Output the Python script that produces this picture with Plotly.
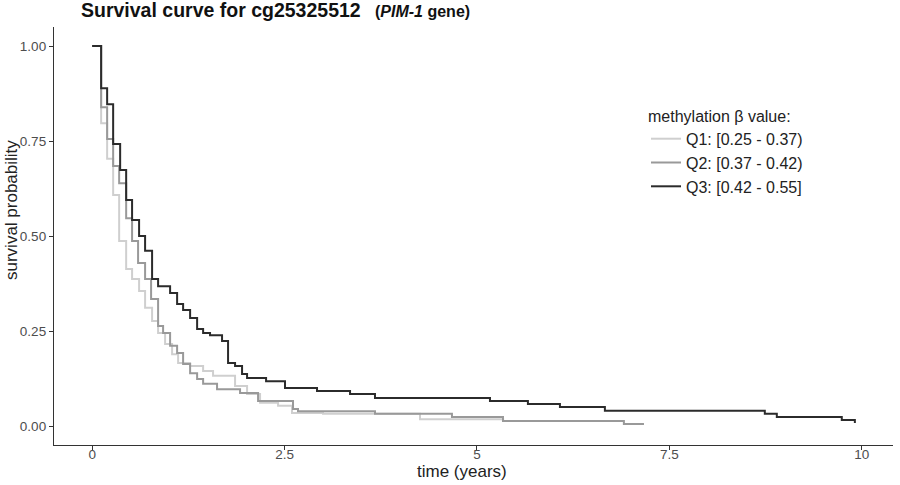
import plotly.graph_objects as go

# Kaplan-Meier step data (time in years, survival probability after each step)
q1_time = [0, 0.117, 0.195, 0.273, 0.351, 0.442, 0.519, 0.61, 0.688, 0.779, 0.857, 0.948,
           1.039, 1.117, 1.273, 1.442, 1.571, 1.857, 2.013, 2.182, 2.416, 2.597, 3.0, 4.26,
           5.34, 5.99]
q1_surv = [1.0, 0.797, 0.703, 0.608, 0.487, 0.413, 0.387, 0.355, 0.311, 0.276, 0.245, 0.216,
           0.189, 0.166, 0.158, 0.145, 0.132, 0.105, 0.084, 0.061, 0.053, 0.034, 0.032, 0.018,
           0.013, 0.013]

q2_time = [0, 0.117, 0.195, 0.273, 0.351, 0.442, 0.519, 0.597, 0.688, 0.766, 0.857, 0.922,
           1.013, 1.104, 1.182, 1.273, 1.364, 1.442, 1.623, 1.922, 2.156, 2.61, 2.675, 3.675,
           4.675, 5.338, 6.909, 7.17]
q2_surv = [1.0, 0.839, 0.755, 0.684, 0.639, 0.547, 0.487, 0.429, 0.387, 0.334, 0.263, 0.245,
           0.211, 0.192, 0.163, 0.139, 0.124, 0.111, 0.097, 0.087, 0.066, 0.045, 0.039, 0.032,
           0.024, 0.013, 0.005, 0.005]

q3_time = [0, 0.117, 0.195, 0.273, 0.364, 0.442, 0.519, 0.61, 0.688, 0.779, 0.857, 1.013,
           1.104, 1.182, 1.273, 1.364, 1.442, 1.532, 1.688, 1.766, 1.857, 1.948, 2.013, 2.26,
           2.506, 2.922, 3.351, 3.675, 5.169, 5.662, 6.078, 6.662, 8.74, 8.896, 9.74, 9.91]
q3_surv = [1.0, 0.889, 0.847, 0.742, 0.674, 0.595, 0.542, 0.50, 0.461, 0.387, 0.368, 0.350,
           0.321, 0.305, 0.284, 0.255, 0.245, 0.239, 0.224, 0.166, 0.158, 0.137, 0.126, 0.118,
           0.100, 0.092, 0.084, 0.074, 0.066, 0.058, 0.050, 0.040, 0.032, 0.024, 0.016, 0.008]

group_names = ["Q1: [0.25 - 0.37)", "Q2: [0.37 - 0.42)", "Q3: [0.42 - 0.55]"]
group_colors = ["#cfcfcf", "#999999", "#2b2b2b"]

x_ticks = [0, 2.5, 5, 7.5, 10]
x_tick_text = ["0", "2.5", "5", "7.5", "10"]
y_ticks = [0, 0.25, 0.5, 0.75, 1.0]
y_tick_text = ["0.00", "0.25", "0.50", "0.75", "1.00"]

font_family = "Liberation Sans, Arial, Helvetica, sans-serif"

W, H = 900, 485
# plot area in screenshot pixels: left 54, top 27, right 893, bottom 445
L, T = 54, 27
R = W - 893
B = H - 445
PW, PH = W - L - R, H - T - B


def px_x(x):
    return (x - L) / PW


def px_y(y):
    return 1 - (y - T) / PH


fig = go.Figure()
for t, s, name, col in zip([q1_time, q2_time, q3_time], [q1_surv, q2_surv, q3_surv],
                           group_names, group_colors):
    fig.add_trace(go.Scatter(x=t, y=s, mode="lines", name=name,
                             line=dict(color=col, width=2, shape="hv")))

fig.update_layout(
    width=W, height=H,
    margin=dict(l=L, r=R, t=T, b=B, autoexpand=False),
    paper_bgcolor="white", plot_bgcolor="white",
    font=dict(family=font_family, color="#222222"),
    showlegend=True,
    legend=dict(
        x=px_x(646), y=px_y(101), xanchor="left", yanchor="top",
        title=dict(text="methylation β value:", font=dict(size=16, color="#222222")),
        font=dict(size=16, color="#222222"),
        bgcolor="rgba(0,0,0,0)", itemwidth=30,
    ),
    xaxis=dict(
        range=[-0.4955, 10.4055], tickvals=x_ticks, ticktext=x_tick_text, automargin=False,
        showgrid=False, zeroline=False, showline=True, linecolor="#333333", linewidth=1.3,
        ticks="outside", ticklen=4, tickcolor="#333333", tickwidth=1.1,
        tickfont=dict(size=13.5, color="#4d4d4d"), ticklabelstandoff=-7,
    ),
    yaxis=dict(
        range=[-0.05, 1.05], tickvals=y_ticks, ticktext=y_tick_text, automargin=False,
        showgrid=False, zeroline=False, showline=True, linecolor="#333333", linewidth=1.3,
        ticks="outside", ticklen=4, tickcolor="#333333", tickwidth=1.1,
        tickfont=dict(size=13.5, color="#4d4d4d"),
    ),
)

# axis titles
fig.add_annotation(x=px_x(462), y=px_y(471), xref="paper", yref="paper", showarrow=False,
                   text="time (years)", xanchor="center", yanchor="middle",
                   font=dict(size=17, color="#222222"))
fig.add_annotation(x=px_x(11), y=px_y(210), xref="paper", yref="paper", showarrow=False,
                   text="survival probability", textangle=-90, xanchor="center",
                   yanchor="middle", font=dict(size=17, color="#222222"))

# title
fig.add_annotation(x=px_x(79), y=px_y(10), xref="paper", yref="paper",
                   showarrow=False, text="<b>Survival curve for cg25325512</b>",
                   xanchor="left", yanchor="middle", font=dict(size=19.5, color="#111111"))
fig.add_annotation(x=px_x(373), y=px_y(11), xref="paper", yref="paper",
                   showarrow=False, text="<b>(<i>PIM-1</i> gene)</b>",
                   xanchor="left", yanchor="middle", font=dict(size=16, color="#111111"))

fig.write_html("out.html", config={"displayModeBar": False},
               post_script="document.body.style.margin='0';document.body.style.overflow='hidden';")
